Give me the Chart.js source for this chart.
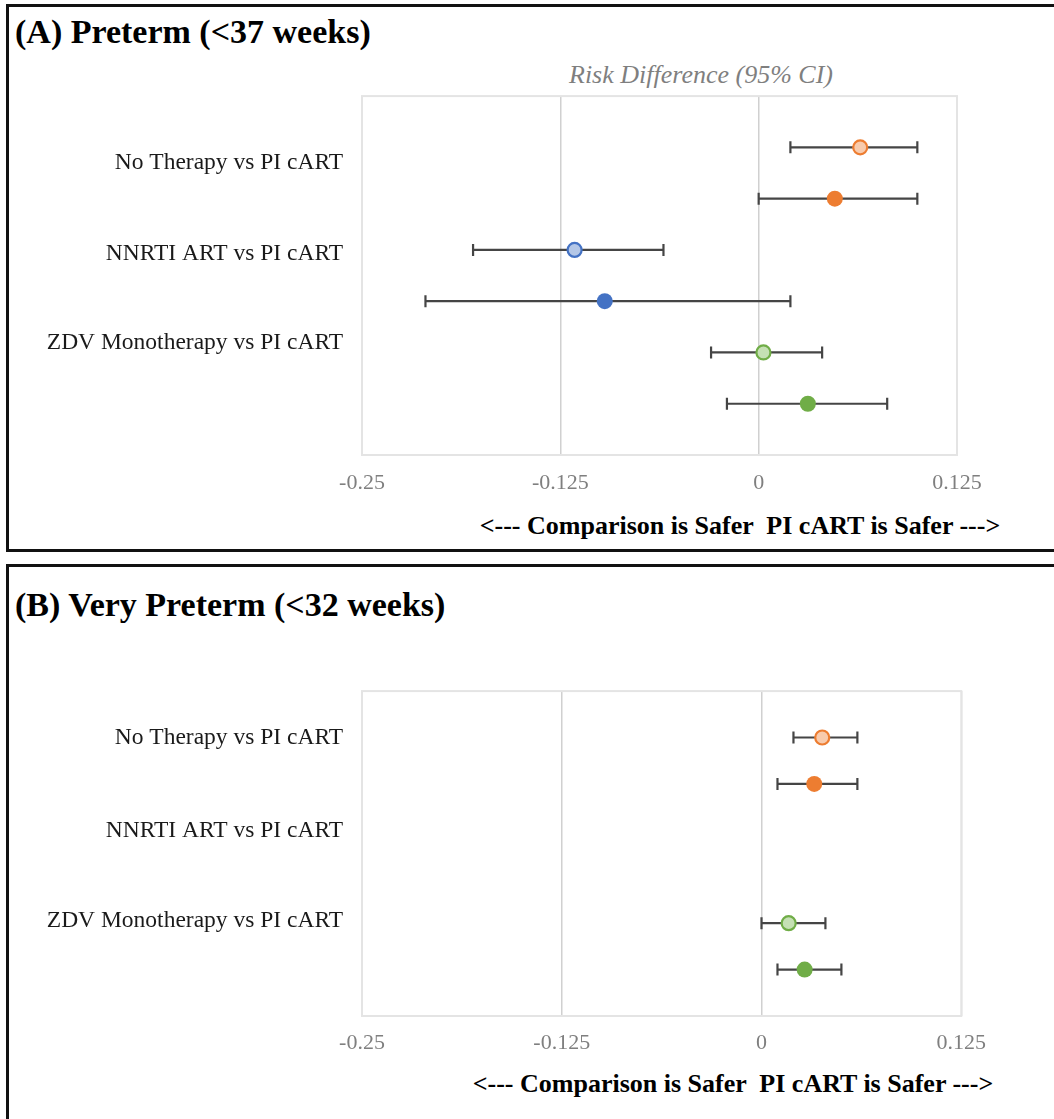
<!DOCTYPE html>
<html lang="en">
<head>
    <meta charset="UTF-8">
    <title>Risk Difference Forest Plots</title>
    <script src="https://cdn.jsdelivr.net/npm/chart.js"></script>
    <style>
        body { margin: 0; width: 1054px; height: 1119px; overflow: hidden; background: #fff; position: relative; font-family: "Liberation Serif", "Times New Roman", serif; }
        .box { position: absolute; left: 6px; width: 1100px; border: 3px solid #111; box-sizing: border-box; }
        .txt { position: absolute; white-space: nowrap; line-height: 1; }
        .panelTitle { left: 15px; font-size: 34px; font-weight: bold; color: #000; }
        .rdTitle { font-size: 26px; font-style: italic; color: #7f7f7f; transform: translateX(-50%); }
        .safer { font-size: 26px; font-weight: bold; color: #000; transform: translateX(-50%); }
        canvas { position: absolute; left: 0; }
    </style>
</head>
<body>
    <div class="box" style="top:4px; height:548px;"></div>
    <div class="box" style="top:564px; height:700px;"></div>

    <div class="txt panelTitle" style="top:15px;">(A) Preterm (&lt;37 weeks)</div>
    <div class="txt rdTitle" style="top:62px; left:701px;">Risk Difference (95% CI)</div>
    <div class="txt safer" style="top:513px; left:740px;">&lt;--- Comparison is Safer &nbsp;PI cART is Safer ---&gt;</div>

    <div class="txt panelTitle" style="top:588px;">(B) Very Preterm (&lt;32 weeks)</div>
    <div class="txt safer" style="top:1071px; left:733px;">&lt;--- Comparison is Safer &nbsp;PI cART is Safer ---&gt;</div>

    <div style="position:absolute; left:0; top:63px; width:1000px; height:437px;"><canvas id="chartA"></canvas></div>
    <div style="position:absolute; left:0; top:658px; width:1000px; height:403px;"><canvas id="chartB"></canvas></div>

    <script>
        // rows from top to bottom, two estimates per comparison
        const rowPos = [1, 2, 3, 4, 5, 6];
        const xTicks = [-0.25, -0.125, 0, 0.125];
        const comparisons = ['No Therapy vs PI cART', 'NNRTI ART vs PI cART', 'ZDV Monotherapy vs PI cART'];
        const labelPosA = [1.3, 3.07, 4.82];
        const labelPosB = [1.0, 3.0, 4.95];

        // (A) preterm <37 weeks
        const pretermEst = [0.064, 0.048, -0.116, -0.097, 0.003, 0.031];
        const pretermLo = [0.020, 0.000, -0.180, -0.210, -0.030, -0.020];
        const pretermHi = [0.100, 0.100, -0.060, 0.020, 0.040, 0.081];

        // (B) very preterm <32 weeks (no NNRTI estimates)
        const veryEst = [0.038, 0.033, null, null, 0.017, 0.027];
        const veryLo = [0.020, 0.010, null, null, 0.000, 0.010];
        const veryHi = [0.060, 0.060, null, null, 0.040, 0.050];

        const fillColors = ['#f8cbad', '#ed7d31', '#b4c7e7', '#4472c4', '#c5e0b4', '#70ad47'];
        const edgeColors = ['#ed7d31', '#ed7d31', '#4472c4', '#4472c4', '#70ad47', '#70ad47'];

        function errorBarPlugin(lo, hi) {
            return {
                id: 'errorBars',
                beforeDatasetsDraw(chart) {
                    const { ctx, chartArea: a, scales: { x, y } } = chart;
                    ctx.save();
                    ctx.strokeStyle = '#e4e4e4';
                    ctx.lineWidth = 2;
                    ctx.strokeRect(a.left, a.top, a.width, a.height);
                    ctx.strokeStyle = '#454545';
                    ctx.lineWidth = 2.2;
                    lo.forEach((l, i) => {
                        if (l === null) return;
                        const py = y.getPixelForValue(rowPos[i]);
                        const x1 = x.getPixelForValue(l);
                        const x2 = x.getPixelForValue(hi[i]);
                        ctx.beginPath();
                        ctx.moveTo(x1, py); ctx.lineTo(x2, py);
                        ctx.moveTo(x1, py - 6); ctx.lineTo(x1, py + 6);
                        ctx.moveTo(x2, py - 6); ctx.lineTo(x2, py + 6);
                        ctx.stroke();
                    });
                    ctx.restore();
                }
            };
        }

        function makeChart(id, est, lo, hi, labelPos, pad) {
            const idx = rowPos.map((r, i) => i).filter(i => est[i] !== null);
            return new Chart(document.getElementById(id), {
                type: 'scatter',
                data: {
                    datasets: [{
                        data: idx.map(i => ({ x: est[i], y: rowPos[i] })),
                        pointRadius: idx.map(i => i % 2 === 0 ? 7 : 8),
                        pointBorderWidth: idx.map(i => i % 2 === 0 ? 2.2 : 0),
                        pointBackgroundColor: idx.map(i => fillColors[i]),
                        pointBorderColor: idx.map(i => edgeColors[i]),
                        showLine: false
                    }]
                },
                options: {
                    responsive: true,
                    maintainAspectRatio: false,
                    animation: false,
                    events: [],
                    layout: { padding: pad },
                    plugins: { legend: { display: false }, tooltip: { enabled: false } },
                    scales: {
                        x: {
                            type: 'linear',
                            min: -0.25,
                            max: 0.125,
                            afterBuildTicks: s => { s.ticks = xTicks.map(v => ({ value: v })); },
                            afterFit: s => { s.height = 45; },
                            ticks: {
                                padding: pad.tickPad,
                                color: '#7f7f7f',
                                font: { family: 'Liberation Serif', size: 22 },
                                callback: v => String(v)
                            },
                            grid: {
                                drawTicks: false,
                                lineWidth: 1.5,
                                color: ctx => (ctx.tick && (ctx.tick.value === -0.125 || ctx.tick.value === 0)) ? '#d0d0d0' : '#e4e4e4'
                            },
                            border: { display: false }
                        },
                        y: {
                            type: 'linear',
                            min: 0,
                            max: 7,
                            reverse: true,
                            afterBuildTicks: s => { s.ticks = labelPos.map(v => ({ value: v })); },
                            afterFit: s => { s.width = 362 - pad.left; },
                            ticks: {
                                padding: 19,
                                color: '#1a1a1a',
                                font: { family: 'Liberation Serif', size: 23.5 },
                                callback: (v, i) => comparisons[i]
                            },
                            grid: { display: false, drawTicks: false },
                            border: { display: false }
                        }
                    }
                },
                plugins: [errorBarPlugin(lo, hi)]
            });
        }

        makeChart('chartA', pretermEst, pretermLo, pretermHi, labelPosA, { top: 7, left: 0, right: 43, bottom: 0, tickPad: 15 });
        makeChart('chartB', veryEst, veryLo, veryHi, labelPosB, { top: 8, left: 0, right: 37, bottom: 0, tickPad: 14 });
    </script>
</body>
</html>
